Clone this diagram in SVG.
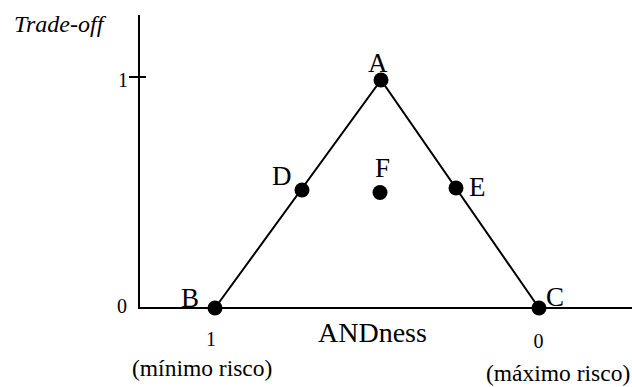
<svg xmlns="http://www.w3.org/2000/svg" width="632" height="387" viewBox="0 0 632 387" font-family="Liberation Serif, Times New Roman, DejaVu Serif, serif">
<style>
.ax{stroke:#000;stroke-width:2;fill:none}
.ln{stroke:#000;stroke-width:2;fill:none}
.dot{fill:#000}
text{font-family:'Liberation Serif','Times New Roman','DejaVu Serif',serif;fill:#000}
.lbl{font-size:27px}
.num{font-size:20px}
.cap{font-size:23.5px}
</style>
<rect width="632" height="387" fill="#fff"/>
<g id="axes">
<line class="ax" x1="139" y1="15" x2="139" y2="309"/>
<line class="ax" x1="138" y1="308" x2="632" y2="308"/>
<line class="ax" x1="129" y1="77" x2="146" y2="77"/>
<text x="14" y="32" font-size="24" font-style="italic">Trade-off</text>
<text class="num" x="118" y="87">1</text>
<text class="num" x="117" y="313">0</text>
<text class="num" x="211" y="346" text-anchor="middle">1</text>
<text class="num" x="538.5" y="348" text-anchor="middle">0</text>
<text x="318" y="342" font-size="28">ANDness</text>
<text class="cap" x="132" y="376">(mínimo risco)</text>
<text class="cap" x="486" y="381">(máximo risco)</text>
</g>
<g id="connectors">
<polyline class="ln" points="215,308 381,80 539,308"/>
</g>
<g id="A"><circle class="dot" cx="381" cy="80" r="7.5"/><text class="lbl" x="368" y="72">A</text></g>
<g id="B"><circle class="dot" cx="215" cy="308" r="7.5"/><text class="lbl" x="181" y="307">B</text></g>
<g id="C"><circle class="dot" cx="539" cy="308" r="7.5"/><text class="lbl" x="546" y="306">C</text></g>
<g id="D"><circle class="dot" cx="302" cy="190" r="7.5"/><text class="lbl" x="272" y="185">D</text></g>
<g id="E"><circle class="dot" cx="456" cy="188" r="7.5"/><text class="lbl" x="469" y="196">E</text></g>
<g id="F"><circle class="dot" cx="380" cy="192.5" r="7.5"/><text class="lbl" x="375" y="177">F</text></g>
</svg>
